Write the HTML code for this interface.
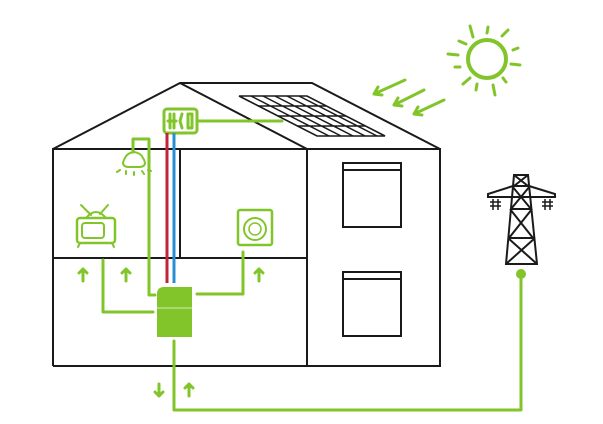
<!DOCTYPE html><html><head><style>body{margin:0;background:#fff}svg{display:block}</style></head><body>
<svg width="603" height="424" viewBox="0 0 603 424" xmlns="http://www.w3.org/2000/svg">
<g fill="none" stroke="#1a1a1a" stroke-width="2">
<path d="M53 366V149H440V366H53M53 258H307M307 149V366M180 149V258"/>
<path d="M53 149L180 83L307 149M180 83H312L440 149"/>
<path d="M239 96H307L385 136H317Z" stroke-width="1.6"/>
<path d="M258 106H326M278 116H346M297 126H365M251 96L329 136M263 96L341 136M275 96L353 136M287 96L365 136M299 96L377 136" stroke-width="1.5"/>
<rect x="343" y="163" width="58" height="64"/><path d="M343 170H401"/>
<rect x="343" y="272" width="58" height="64"/><path d="M343 279H401"/>
<path d="M514 175H528L537 264H506ZM514 175L528 186M528 175L514 186M513 186H529M512 186L531 209M530 186L511 209M511 209H532M510 209L533 238M532 209L509 238M509 238H535M508 238L537 264M535 238L506 264M513 186L488 194V197H555V194L529 186"/>
<path d="M493 199V210M498 199V210M545 199V210M550 199V210M490 202h11M490 206h11M542 202h11M542 206h11" stroke-width="1.5"/>
</g>
<g fill="none" stroke="#82c52a" stroke-width="3" stroke-linecap="round" stroke-linejoin="round">
<circle cx="487" cy="59" r="19" stroke-width="4"/>
<path d="M470 26L473 37M488 27L487 33M508 30L502 36M513 50L518 48M511 64L520 65M503 78L506 82M493 85L495 95M477 84L476 90M470 78L463 84M455 67L460 67M448 54L458 55M459 41L466 44"/>
<path d="M405 80L374 94M374 94l4-7M374 94l8 1M424 90L394 105M394 105l4-7M394 105l8 1M444 100L414 114M414 114l4-7M414 114l8 1"/>
<path d="M197 121H282"/>
<rect x="164" y="109" width="33" height="24" rx="3"/>
<path d="M170 114v14M174 114v14M168 121h8M182 114l-2 7 2 7M188 114v14M192 114v14M188 114h4M188 128h4"/>
<path d="M149 283V139H133V152"/>
<path d="M125 158q-5 8 3 9h12q8-1 3-9q-2-5-9-6q-7 1-9 6zM120 170l-3 2M126 171v3M134 172v3M142 171l2 3M148 170l3 1" stroke-width="2"/>
<path d="M149 283V295H155M153 312H103V260M197 294H243V252M174 341V410H521V279"/>
<path d="M83 281V269M79 273l4-4 4 4M126 281V269M122 273l4-4 4 4M259 281V269M255 273l4-4 4 4M159 384V396M155 392l4 4 4-4M189 396V384M185 388l4-4 4 4"/>
<rect x="77" y="218" width="38" height="25" rx="3" stroke-width="2.5"/>
<rect x="82" y="223" width="22" height="15" rx="3" stroke-width="2"/>
<path d="M86 218q10-12 20 0M81 205l10 10M108 205l-8 9M80 243l-2 4M112 243l2 4" stroke-width="2"/>
<rect x="238" y="210" width="34" height="35" rx="2" stroke-width="2.5"/>
<circle cx="255" cy="229" r="11" stroke-width="2"/><circle cx="255" cy="229" r="6" stroke-width="1.5"/>
</g>
<path d="M167 133V283" stroke="#c0233a" stroke-width="3"/>
<path d="M174 133V283" stroke="#2a8fd0" stroke-width="3"/>
<path d="M164 287H192V337H157V294Q157 287 164 287Z" fill="#82c52a"/>
<path d="M157 308H192" stroke="#d8ecbf" stroke-width="1"/>
<circle cx="521" cy="274" r="5" fill="#82c52a"/>
</svg></body></html>
